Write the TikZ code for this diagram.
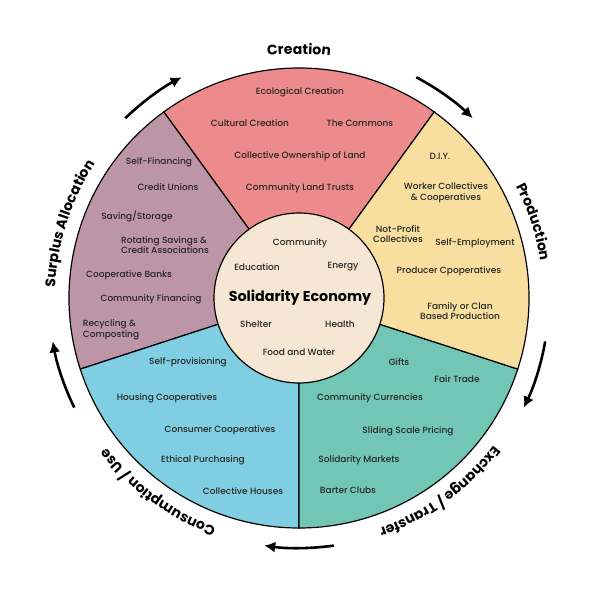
\documentclass[tikz,border=0pt]{standalone}
\usepackage{fontspec}
\setmainfont{Poppins}[UprightFont=* Medium,BoldFont=* Bold]
\usetikzlibrary{arrows.meta,decorations.text}
\definecolor{creation}{HTML}{EC8A8C}
\definecolor{production}{HTML}{F9DF9F}
\definecolor{exchange}{HTML}{72C6B5}
\definecolor{consumption}{HTML}{80CEE2}
\definecolor{surplus}{HTML}{BC96A6}
\definecolor{core}{HTML}{F5E7D3}
\newcommand{\stagefont}{\bfseries\fontsize{14}{16}\selectfont}
\tikzstyle{item} = [align=center,inner sep=0pt,text=black!85,font=\fontsize{9}{10.6}\selectfont]
\tikzstyle{itemleft} = [item,align=left]
\tikzstyle{title} = [inner sep=0pt,font=\bfseries\fontsize{14.3}{16}\selectfont]
\tikzstyle{sector} = [draw=black,line width=1.2pt]
\tikzstyle{cycle} = [line width=2.6pt,-{Latex[length=11pt,width=11pt]}]

\begin{document}
\begin{tikzpicture}[x=1pt,y=1pt]
	\useasboundingbox (-299,-300) rectangle (300,298);
	% the five sectors
	\foreach \a/\col in {54/creation,126/surplus,198/consumption,270/exchange,342/production}
		\filldraw[sector,fill=\col] (0,0) -- (\a:230) arc[start angle=\a,delta angle=72,radius=230] -- cycle;
	\node (hub) [circle,sector,fill=core,minimum size=170pt] at (0,0) {};
	% arrows between the stages
	\foreach \a in {126,54,-18,-90,198}
		\draw[cycle] (\a+8:250) arc[start angle=\a+8,end angle=\a-8,radius=250];
	% stage names
	\foreach \a/\name in {90/{Creation},18/{Production},-54/{Exchange / Transfer},-126/{Consumption / Use},162/{Surplus Allocation}}
		\path[decorate,decoration={text along path,text align=center,text={|\stagefont|\name}}]
			(\a+34:244) arc[start angle=\a+34,end angle=\a-34,radius=244];
	% centre
	\node (solidarity) [title] at (1,0) {Solidarity Economy};
	\node (community) [item] at (1,55) {Community};
	\node (education) [item] at (-42,31) {Education};
	\node (energy) [item] at (44,31) {Energy};
	\node (shelter) [item] at (-43,-26) {Shelter};
	\node (health) [item] at (41,-26) {Health};
	\node (food) [item] at (0,-54) {Food and Water};
	% creation
	\node (ecological) [item] at (1,206) {Ecological Creation};
	\node (cultural) [item] at (-49,175) {Cultural Creation};
	\node (commons) [item] at (61,175) {The Commons};
	\node (ownership) [item] at (1,142) {Collective Ownership of Land};
	\node (trusts) [item] at (1,110) {Community Land Trusts};
	% production
	\node (diy) [item] at (141,142) {D.I.Y.};
	\node (worker) [item] at (147,105) {Worker Collectives\\\& Cooperatives};
	\node (nonprofit) [item] at (99,64) {Not-Profit\\Collectives};
	\node (selfemp) [item] at (176,55) {Self-Employment};
	\node (producer) [item] at (150,27) {Producer Cpoperatives};
	\node (family) [item] at (161,-13) {Family or Clan\\Based Production};
	% exchange / transfer
	\node (gifts) [item] at (100,-64) {Gifts};
	\node (fairtrade) [item] at (158,-81) {Fair Trade};
	\node (currencies) [item] at (71,-100) {Community Currencies};
	\node (sliding) [item] at (109,-133) {Sliding Scale Pricing};
	\node (markets) [item] at (60,-162) {Solidarity Markets};
	\node (barter) [item] at (49,-192) {Barter Clubs};
	% consumption / use
	\node (selfprov) [item] at (-111,-64) {Self-provisioning};
	\node (housing) [item] at (-132,-100) {Housing Cooperatives};
	\node (consumer) [item] at (-79,-132) {Consumer Cooperatives};
	\node (ethical) [item] at (-96,-162) {Ethical Purchasing};
	\node (houses) [item] at (-56,-193) {Collective Houses};
	% surplus allocation
	\node (selffin) [item] at (-140,136) {Self-Financing};
	\node (unions) [item] at (-131,111) {Credit Unions};
	\node (saving) [item] at (-162,82) {Saving/Storage};
	\node (rotating) [itemleft] at (-134,53) {Rotating Savings \&\\Credit Associations};
	\node (coopbanks) [item] at (-170,23) {Cooperative Banks};
	\node (commfin) [item] at (-148,-1) {Community Financing};
	\node (recycling) [itemleft] at (-188,-32) {Recycling \&\\Composting};
\end{tikzpicture}
\end{document}
